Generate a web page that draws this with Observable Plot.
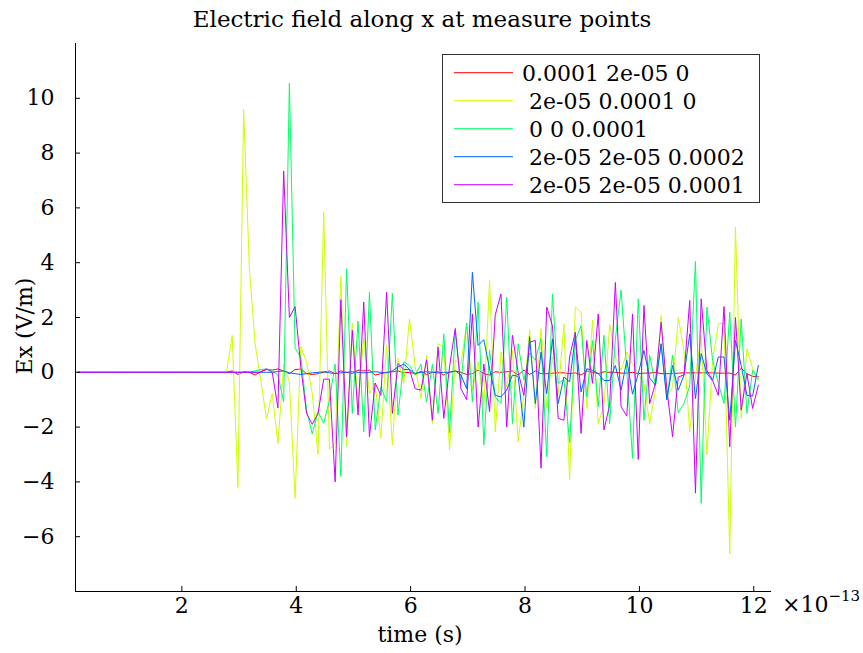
<!DOCTYPE html>
<html><head><meta charset="utf-8">
<script src="https://cdn.jsdelivr.net/npm/d3@7"></script>
<script src="https://cdn.jsdelivr.net/npm/@observablehq/plot@0.6"></script>
<style>body{margin:0;background:#fff} svg{display:block}</style>
</head><body><div id="chart"></div>
<script>
const titleText = "Electric field along x at measure points";
const xLabelText = "time (s)";
const yLabelText = "Ex (V/m)";
const seriesNames = ["0.0001 2e-05 0", " 2e-05 0.0001 0", " 0 0 0.0001", " 2e-05 2e-05 0.0002", " 2e-05 2e-05 0.0001"];
const seriesColors = ["#ff0000", "#ccff00", "#00ff66", "#0066ff", "#cc00ff"];
const xTicks = [2, 4, 6, 8, 10, 12];
const yTicks = [-6, -4, -2, 0, 2, 4, 6, 8, 10];
const xDomain = [0.14, 12.31];
const yDomain = [-8, 12];
// sample grid, in units of 1e-13 s
const tStart = 0.18, tStep = 0.1;

const redVals = [
0,0,0,0,0,0,0,0,0,0, 0,0,0,0,0,0,0,0,0,0, 0,0,0,0,0,0,
0,0.05,-0.08,0.02,0,-0.1,0.03,0.1,0.08,0.12,
0.05,-0.05,0.1,0.12,-0.05,-0.08,-0.05,0,0.05,-0.05,
0.05,0,-0.05,0.08,0.05,0.08,-0.1,-0.05,0,0.02,
0.05,-0.02,0,-0.05,0.03,-0.08,0,0.02,-0.1,0,
0.05,0,-0.08,-0.05,0.08,-0.05,-0.1,0.02,0,0.02,
0.05,-0.1,0.08,-0.08,0.05,-0.05,-0.05,-0.03,-0.02,-0.02,
-0.05,-0.02,-0.1,0.05,0,-0.05,0.02,0,0,-0.03,
-0.03,0,-0.05,-0.03,-0.03,0,-0.05,-0.05,-0.05,-0.03,
-0.02,-0.02,-0.02,-0.02,-0.02,-0.02,-0.03,-0.03,-0.03,-0.1,
0.15,-0.05,-0.15,-0.15];

const yellowVals = [
0,0,0,0,0,0,0,0,0,0, 0,0,0,0,0,0,0,0,0,0, 0,0,0,0,0,0,
0,1.35,-4.2,9.6,3.8,1.05,-0.3,-1.7,-0.77,-2.6,
0.3,-0.35,-4.6,0.95,0.37,-0.77,-3.0,5.85,-2.8,-2.6,
3.5,-2.7,1.8,-1.2,1.28,-0.78,-0.4,-2.4,1.0,-2.65,
0.5,-0.4,1.95,0.2,-0.96,0.62,-1.87,1.04,0.92,-2.84,
0.44,0.3,1.8,-0.65,0.4,-1.2,3.35,-2.17,0.74,-0.53,
0.8,-2.53,-0.8,1.55,-1.32,1.59,-1.3,0.56,-0.8,1.75,
-3.93,2.38,2.2,-1.32,1.9,-1.87,-1.2,1.75,0.56,0.07,
0.74,0.3,-0.05,-0.41,-1.87,-0.65,2.07,-0.96,-0.53,2.0,
0.8,-2.17,-0.17,1.35,-3.0,0.44,1.77,1.79,-6.62,5.3,
-1.68,0.86,0.13,-0.23];

const greenVals = [
0,0,0,0,0,0,0,0,0,0, 0,0,0,0,0,0,0,0,0,0, 0,0,0,0,0,0,
0,0,0,0,0.02,0.05,0.1,0.12,0.05,-0.1,
-1.08,10.55,0.87,0.56,-1.38,-2.25,-1.44,-1.86,-1.02,0.3,
-3.8,3.78,-1.5,1.87,-2.17,2.92,-2.1,-0.53,-1.08,2.88,
-1.56,0.38,0.25,-0.1,0.3,-1.08,0.29,-1.5,1.4,-2.2,
1.5,-0.4,1.8,-1.08,2.56,-2.65,0.8,-0.9,-1.14,2.74,
-1.87,1.04,-0.29,0.7,0.44,1.22,-3.08,2.86,-0.41,-0.25,
-2.57,1.16,1.7,-0.9,1.16,-1.26,1.35,-1.87,1.22,3.0,
0.07,-3.14,2.68,-1.75,0.62,-0.47,1.04,-1.0,0.62,-1.48,
-1.14,-0.5,4.05,-4.78,2.38,0.44,-0.41,-1.14,2.2,-2.0,
1.95,-1.5,0.07,-0.27];

const blueVals = [
0,0,0,0,0,0,0,0,0,0, 0,0,0,0,0,0,0,0,0,0, 0,0,0,0,0,0,
0,0,0,0,0,0,0,0,0,0.03,
0.05,-0.02,-0.05,-0.08,-0.05,-0.02,0,0.02,-0.02,-0.05,
-0.02,0,0.02,0,-0.02,0,0.02,0,-0.02,0.05,
0.2,0.3,0.1,-0.05,0,0.02,0,-0.02,0,0,
0.05,-0.1,-0.6,3.65,0.98,1.19,0.13,-0.84,-0.9,-0.65,
-0.1,-0.15,-2.0,1.3,-1.14,0.74,-0.78,1.22,-1.14,-0.17,
-0.35,1.3,-0.72,0.13,0.07,-0.05,-0.3,-0.3,0.25,-0.65,
0.44,-0.8,-0.05,0.8,-0.2,-0.47,1.04,-1.0,0.25,-0.65,
-0.1,1.4,-0.96,0.68,-0.05,-0.3,0.56,0.56,-1.75,1.16,
0.25,-0.84,-0.87,0.25];

const magentaVals = [
0,0,0,0,0,0,0,0,0,0, 0,0,0,0,0,0,0,0,0,0, 0,0,0,0,0,0,
0,0,0,0,0,0,0,0.13,0,-1.3,
7.35,2.0,2.4,0.2,-1.5,-1.9,-1.5,-0.25,-0.25,-4.0,
2.65,-2.35,1.53,-1.56,2.56,-2.35,-0.39,-0.84,2.92,-1.5,
0.32,0.1,0.1,-0.6,-0.65,0.46,-1.75,0.92,-1.68,0.2,
1.6,-0.6,-1.0,2.13,-2.0,0.3,-1.44,2.1,2.86,-2.0,
1.35,0,-0.84,1.1,1.16,-3.5,2.38,1.7,-1.68,-1.75,
0.56,1.47,-2.23,1.16,-0.4,2.13,-2.1,-1.2,3.28,-1.26,
-1.6,2.13,-3.18,2.44,-1.14,-0.41,1.83,-0.6,-2.35,-0.17,
-0.1,2.62,-4.41,2.68,0.07,-0.3,-0.84,2.4,-2.72,2.0,
-1.38,-0.05,-1.32,-0.47];

const allSeries = [redVals, yellowVals, greenVals, blueVals, magentaVals];
const rows = [];
allSeries.forEach((vals, k) => vals.forEach((v, i) => rows.push({t: tStart + tStep * i, v, s: seriesNames[k]})));

const FONT = "'DejaVu Serif', serif";

const plot = Plot.plot({
  width: 863, height: 653,
  marginLeft: 75, marginRight: 92, marginTop: 43, marginBottom: 62,
  style: {fontFamily: FONT, fontSize: "22px", color: "#000", background: "#fff", overflow: "visible"},
  x: {domain: xDomain, label: null},
  y: {domain: yDomain, label: null},
  color: {domain: seriesNames, range: seriesColors},
  marks: [
    Plot.line(rows, {x: "t", y: "v", z: "s", stroke: "s", strokeWidth: 1, curve: "linear"}),
    Plot.ruleX([xDomain[0]], {stroke: "#000", strokeWidth: 1}),
    Plot.ruleY([yDomain[0]], {stroke: "#000", strokeWidth: 1}),
    // inward tick marks
    Plot.ruleX(xTicks, {y1: yDomain[0], y2: yDomain[0], insetTop: -5, stroke: "#000", strokeWidth: 1}),
    Plot.ruleY(yTicks, {x1: xDomain[0], x2: xDomain[0], insetRight: -5, stroke: "#000", strokeWidth: 1}),
    Plot.axisX(xTicks, {anchor: "bottom", tickSize: 0, tickPadding: 6, label: null, fontSize: 22}),
    Plot.axisY(yTicks, {anchor: "left", tickSize: 0, tickPadding: 21, label: null, fontSize: 22})
  ]
});

document.getElementById("chart").appendChild(plot);
const svg = d3.select(plot);

svg.append("text").attr("x", 422).attr("y", 27).attr("text-anchor", "middle")
  .attr("font-family", FONT).attr("font-size", 23).attr("fill", "#000").text(titleText);
svg.append("text").attr("x", 420).attr("y", 642).attr("text-anchor", "middle")
  .attr("font-family", FONT).attr("font-size", 22).attr("fill", "#000").text(xLabelText);
svg.append("text").attr("transform", "translate(32,326) rotate(-90)").attr("text-anchor", "middle")
  .attr("font-family", FONT).attr("font-size", 22).attr("fill", "#000").text(yLabelText);
const mult = svg.append("text").attr("x", 782).attr("y", 612).attr("text-anchor", "start")
  .attr("font-family", FONT).attr("font-size", 22).attr("fill", "#000");
mult.append("tspan").text("\u00d710");
mult.append("tspan").attr("dy", -11).attr("font-size", 15).text("\u221213");

// legend
const lg = svg.append("g");
lg.append("rect").attr("x", 442.5).attr("y", 54.5).attr("width", 317).attr("height", 148)
  .attr("fill", "#fff").attr("stroke", "#333").attr("stroke-width", 1);
seriesNames.forEach((name, k) => {
  const cy = 72.7 + k * 28;
  lg.append("line").attr("x1", 454).attr("x2", 513).attr("y1", cy).attr("y2", cy)
    .attr("stroke", seriesColors[k]).attr("stroke-width", 1);
  lg.append("text").attr("x", 522).attr("y", cy).attr("dy", "0.36em").attr("text-anchor", "start")
    .attr("font-family", FONT).attr("font-size", 22).attr("fill", "#000")
    .attr("xml:space", "preserve").style("white-space", "pre").text(name);
});
</script>
</body></html>
